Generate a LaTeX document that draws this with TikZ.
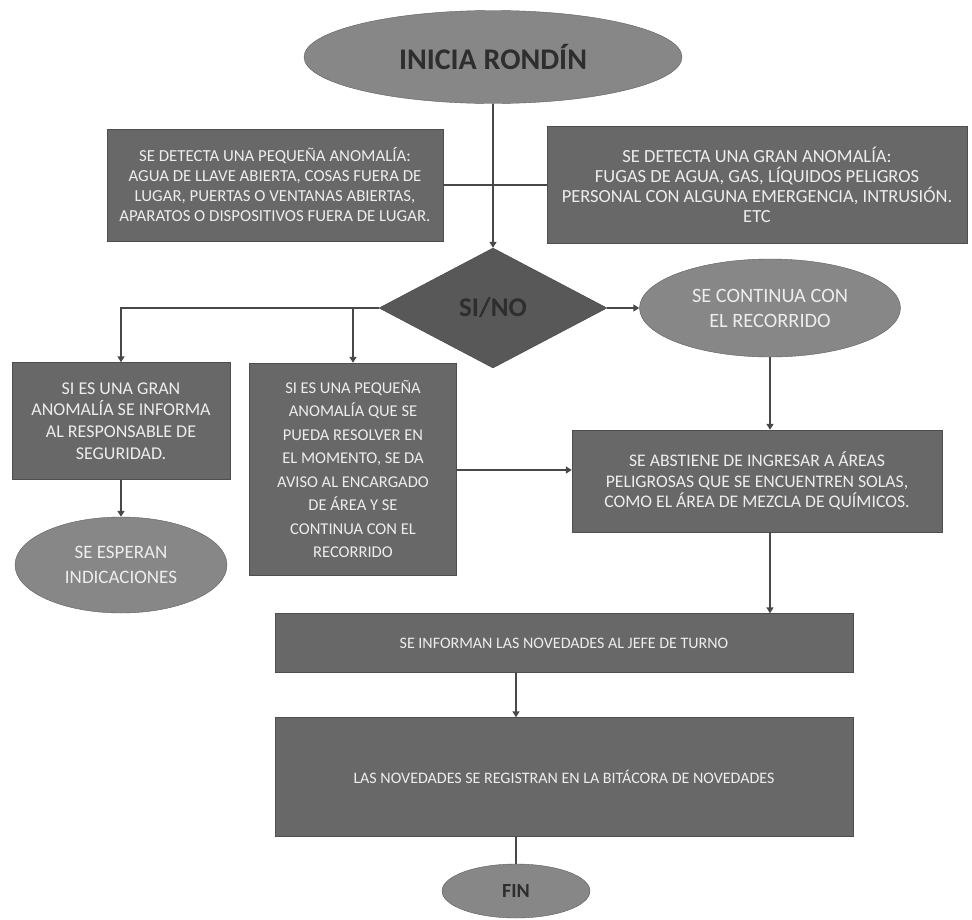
\documentclass[tikz,border=0pt]{standalone}
\usepackage{fontspec}
\setmainfont{Carlito}
\usetikzlibrary{shapes.geometric,arrows.meta}
\definecolor{rdbox}{HTML}{686868}
\definecolor{rdoval}{HTML}{878787}
\definecolor{rddiam}{HTML}{585858}
\definecolor{rdline}{HTML}{484848}
\definecolor{rdpaper}{HTML}{EDEDED}
\definecolor{rdink}{HTML}{2E2E2E}
\tikzset{
  caja/.style={rectangle, fill=rdbox, draw=rdbox!75!black, inner sep=0pt, align=center, text=rdpaper},
  ovalo/.style={ellipse, fill=rdoval, draw=rdoval!70!black, inner sep=0pt, align=center},
  flecha/.style={draw=rdline, line width=1.6pt, -{Triangle[width=7pt,length=6pt]}},
  linea/.style={draw=rdline, line width=1.6pt}
}

\begin{document}
\begin{tikzpicture}[x=1pt, y=-1pt]
  \useasboundingbox (0,0) rectangle (972,919);
  \node[ovalo, minimum width=378pt, minimum height=93pt, text=rdink, font=\fontsize{30}{34}\selectfont\bfseries] (inicio) at (493,57) {INICIA RONDÍN};
  \node[caja, minimum width=336pt, minimum height=112pt, font=\fontsize{16.8}{20}\selectfont] (peq) at (275,185) {SE DETECTA UNA PEQUEÑA ANOMALÍA:\\AGUA DE LLAVE ABIERTA, COSAS FUERA DE\\LUGAR, PUERTAS O VENTANAS ABIERTAS,\\APARATOS O DISPOSITIVOS FUERA DE LUGAR.};
  \node[caja, minimum width=420pt, minimum height=117pt, font=\fontsize{18.5}{20}\selectfont] (gran) at (757,185) {SE DETECTA UNA GRAN ANOMALÍA:\\FUGAS DE AGUA, GAS, LÍQUIDOS PELIGROS\\PERSONAL CON ALGUNA EMERGENCIA, INTRUSIÓN.\\ETC};
  \node[diamond, fill=rddiam, draw=rddiam!75!black, inner sep=0pt, minimum width=228pt, minimum height=120pt, text=rdink, font=\fontsize{27}{30}\selectfont\bfseries] (sino) at (493,308) {SI/NO};
  \node[ovalo, minimum width=261pt, minimum height=98pt, text=rdpaper, font=\fontsize{20.4}{25}\selectfont] (continua) at (770,308) {SE CONTINUA CON\\EL RECORRIDO};
  \node[caja, minimum width=218pt, minimum height=117pt, font=\fontsize{18}{21.7}\selectfont] (granInf) at (121,421) {SI ES UNA GRAN\\ANOMALÍA SE INFORMA\\AL RESPONSABLE DE\\SEGURIDAD.};
  \node[ovalo, minimum width=212pt, minimum height=96pt, text=rdpaper, font=\fontsize{19}{25}\selectfont] (esperan) at (121,565) {SE ESPERAN\\INDICACIONES};
  \node[caja, minimum width=207pt, minimum height=212pt, font=\fontsize{16.5}{23.5}\selectfont] (pequeInf) at (353,469) {SI ES UNA PEQUEÑA\\ANOMALÍA QUE SE\\PUEDA RESOLVER EN\\EL MOMENTO, SE DA\\AVISO AL ENCARGADO\\DE ÁREA Y SE\\CONTINUA CON EL\\RECORRIDO};
  \node[caja, minimum width=370pt, minimum height=102pt, font=\fontsize{17.7}{20.5}\selectfont] (abstiene) at (757,481) {SE ABSTIENE DE INGRESAR A ÁREAS\\PELIGROSAS QUE SE ENCUENTREN SOLAS,\\COMO EL ÁREA DE MEZCLA DE QUÍMICOS.};
  \node[caja, minimum width=578pt, minimum height=59pt, font=\fontsize{16}{18}\selectfont] (informan) at (564,643) {SE INFORMAN LAS NOVEDADES AL JEFE DE TURNO};
  \node[caja, minimum width=578pt, minimum height=119pt, font=\fontsize{16}{18}\selectfont] (registran) at (564,777) {LAS NOVEDADES SE REGISTRAN EN LA BITÁCORA DE NOVEDADES};
  \node[ovalo, minimum width=148pt, minimum height=54pt, text=rdink, font=\fontsize{20}{24}\selectfont\bfseries] (fin) at (516,891) {FIN};

  \draw[flecha] (inicio.south) -- (sino.north);
  \draw[linea] (peq.east) -- (gran.west);
  \draw[flecha] (sino.west) -| (granInf.north);
  \draw[flecha] (sino.west -| pequeInf.north) -- (pequeInf.north);
  \draw[flecha] (sino.east) -- (continua.west);
  \draw[flecha] (granInf.south) -- (esperan.north);
  \draw[flecha] (continua.south) -- (continua.south |- abstiene.north);
  \draw[flecha] ([yshift=-1pt]pequeInf.east) -- ([yshift=-1pt]pequeInf.east -| abstiene.west);
  \draw[flecha] (continua.south |- abstiene.south) -- (continua.south |- informan.north);
  \draw[flecha] (fin.north |- informan.south) -- (fin.north |- registran.north);
  \draw[linea] (fin.north |- registran.south) -- (fin.north);
\end{tikzpicture}
\end{document}
